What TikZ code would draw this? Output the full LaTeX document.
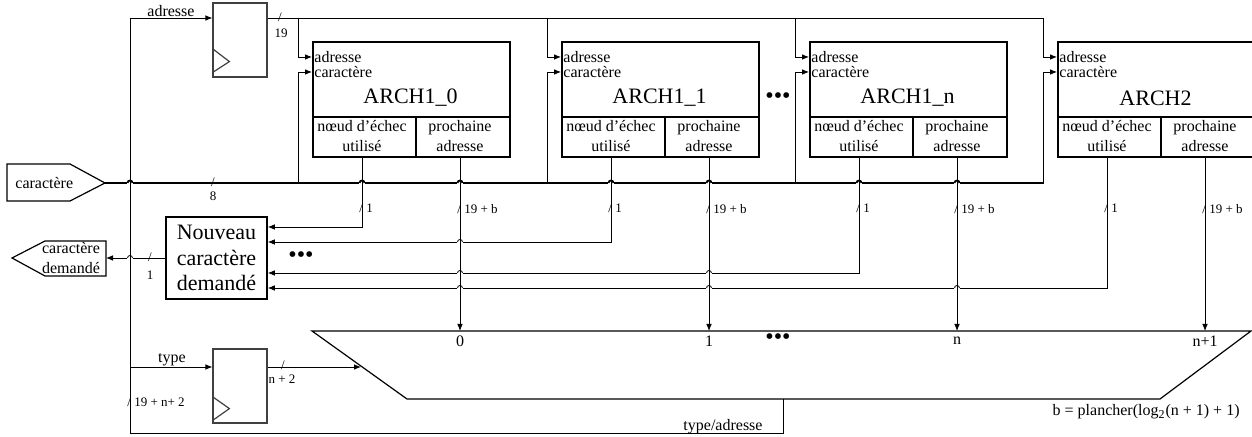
\documentclass[tikz,border=0pt]{standalone}
\usepackage{fontspec}
\setmainfont{Liberation Serif}
\usetikzlibrary{arrows.meta, positioning}

\tikzset{
  arr/.style={-{Latex[length=3.5pt,width=2.8pt]}},
  blk/.style={draw, line width=0.9pt, minimum width=98.5pt, minimum height=57.5pt, inner sep=0pt, anchor=north west},
  reg/.style={draw=black!75, line width=0.6pt, minimum width=27pt, minimum height=37pt, inner sep=0pt},
  lbl/.style={font=\fontsize{8}{10}\selectfont, inner sep=0pt},
  big/.style={font=\fontsize{11}{12.8}\selectfont, inner sep=0pt},
  bw/.style={font=\fontsize{6.5}{7.5}\selectfont, inner sep=0pt},
  dots/.style={font=\fontsize{12}{12}\selectfont, inner sep=0pt},
}
% petit saut de fil
\newcommand{\wirehop}[2][]{%
  \fill[white] #2 ++(-3,-1.2) rectangle ++(6,2.4);
  \draw[#1] #2 ++(-2.5,0) arc[start angle=180,end angle=0,radius=1.25pt];
  \draw #2 ++(0,-3) -- ++(0,6);
}

\begin{document}
\begin{tikzpicture}[x=0.5pt,y=-0.5pt]
  \useasboundingbox (0,0) rectangle (1252,437);

  % ports
  \draw[line width=0.6pt] (7,164) -- (70,164) -- (105,183) -- (70,201) -- (7,201) -- cycle;
  \coordinate (cin) at (105,183);
  \node[lbl, anchor=west] (cin-t) at (15,183) {caractère};
  \draw[line width=0.6pt] (106,241) -- (45,241) -- (12,258) -- (45,276) -- (106,276) -- cycle;
  \coordinate (cout) at (106,258);
  \node[lbl, align=center] (cout-t) at (71,258) {caractère\\demandé};

  % registres
  \node[reg] (ra) at (240,40) {};
  \draw[black!75, line width=0.6pt] (ra.south west) ++(0,-5) -- ++(17,-11) -- ++(-17,-13);
  \node[reg] (rt) at (240,386) {};
  \draw[black!75, line width=0.6pt] (rt.south west) ++(0,-3) -- ++(17,-12) -- ++(-17,-12);

  \node[draw, line width=0.8pt, minimum width=50.5pt, minimum height=41pt, align=center, big] (nv) at (216.5,258) {Nouveau\\caractère\\demandé};

  % multiplexeur
  \coordinate (mtl) at (312,331);
  \coordinate (mtr) at (1251,331);
  \coordinate (mbr) at (1160,399);
  \coordinate (mbl) at (407,399);
  \coordinate (mbot) at (783,399);
  \coordinate (mty) at (361,367);
  \draw[line width=0.6pt] (mtl) -- (mtr) -- (mbr) -- (mbl) -- cycle;

  % bus
  \draw[line width=0.9pt] (cin) -- (1044,183);
  \node[bw] (w8) at (213,182) {/};
  \node[bw] (w8n) at (213,196) {8};
  \draw (ra.east |- 0,18) -- (1044,18);
  \node[bw] (w19) at (280,17) {/};
  \node[bw] (w19n) at (281,33) {19};

  \foreach \nm/\x/\lbl/\m/\h in {a0/312/{ARCH1\_0}/0/227, a1/561/{ARCH1\_1}/1/242, an/809/{ARCH1\_n}/n/273, a2/1057/ARCH2/n+1/288}{
    \node[blk] (\nm) at (\x,41) {};
    \draw[line width=0.9pt] (\x,117) -- ++(197,0);
    \draw[line width=0.9pt] (\x+104,117) -- (\x+104,156);
    \node[lbl, anchor=west] (\nm-ad) at (\x+2,57) {adresse};
    \node[lbl, anchor=west] (\nm-ca) at (\x+2,72) {caractère};
    \node[big] (\nm-t) at (\x+98.5,98) {\lbl};
    \node[lbl, align=center] (\nm-nf) at (\x+50,136) {nœud d’échec\\utilisé};
    \node[lbl, align=center] (\nm-pa) at (\x+148,136) {prochaine\\adresse};
    \draw[arr] (\x-14,18) |- (\nm.west |- \nm-ad);
    \draw[arr] (\x-14,183) |- (\nm.west |- \nm-ca);
    \draw[arr] (\nm.south -| \nm-nf) |- (nv.east |- 0,\h);
    \draw[arr] (\nm.south -| \nm-pa) -- (\nm-pa |- mtl);
    \node[bw, anchor=west] (\nm-w1) at (\x+47,208) {/ 1};
    \node[bw, anchor=west] (\nm-w2) at (\x+145,209) {/ 19 + b};
    \node[lbl] (\nm-m) at (\nm-pa |- 0,341) {\m};
  }

  % retour type/adresse
  \draw[arr] (mbot) -- ++(0,34) -| (130,18) -- (ra.west |- 0,18);
  \draw[arr] (130,367) -- (rt.west |- 0,367);
  \draw[arr] (rt.east |- 0,367) -- (mty);
  \draw[arr] (nv.west) -- (cout);
  \node[lbl] (l-ad) at (171,11) {adresse};
  \node[lbl] (l-ty) at (172,360) {type};
  \node[lbl] (l-ta) at (723,427) {type/adresse};
  \node[bw] (wt) at (283,365) {/};
  \node[bw] (wtn) at (282,379) {n + 2};
  \node[bw, anchor=west] (wl) at (127,402) {/ 19 + n+ 2};
  \node[bw] (wo) at (150,257) {/};
  \node[bw] (won) at (150,275) {1};
  \node[lbl, anchor=east] (bform) at (1240,412) {b = plancher(log\textsubscript{2}(n + 1) + 1)};

  \node[dots] (dt) at (778,98) {•••};
  \node[dots] (dn) at (301,257) {•••};
  \node[dots] (dm) at (778,339) {•••};

  % sauts
  \wirehop{(130,258)}
  \wirehop[line width=0.9pt]{(130,183)}
  \foreach \c in {a0-nf, a0-pa, a1-nf, a1-pa, an-nf, an-pa} {\wirehop[line width=0.9pt]{(\c |- 0,183)}}
  \wirehop{(a0-pa |- 0,242)}
  \wirehop{(a0-pa |- 0,273)}
  \wirehop{(a1-pa |- 0,273)}
  \wirehop{(a0-pa |- 0,288)}
  \wirehop{(a1-pa |- 0,288)}
  \wirehop{(an-pa |- 0,288)}
\end{tikzpicture}
\end{document}
